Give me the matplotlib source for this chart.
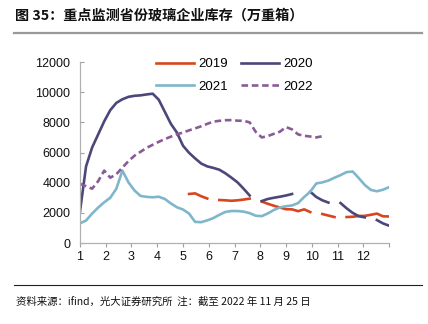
import numpy as np
import matplotlib
matplotlib.use("Agg")
import matplotlib.pyplot as plt

nan = np.nan

# weekly inventory, 52 weeks per year (gaps = no report that week)
inv_2019 = [nan] * 18 + [
    3250, 3290, 3100, 2950, nan, 2850, 2830, 2800, 2830, 2880, 2940, nan,
    2750, 2600, 2470, 2350, 2240, 2230, 2110, 2230, 2050, nan, 1920, 1820,
    1720, nan, 1720, 1740, 1790, 1800, 1870, 1950, 1770, 1760]
inv_2020 = [
    2100, 5080, 6330, 7200, 8070, 8810, 9290, 9530, 9690, 9760, 9790, 9850,
    9900, 9500, 8700, 7900, 7320, 6450, 5980, 5610, 5270, 5080, 4980, 4860,
    4620, 4330, 4020, 3600, 3150, nan, 2780, 2920, 3000, 3070, 3150, 3250,
    nan, nan, 3400, 3050, 2830, 2680, nan, 2650, 2300, 2000, 1780, 1700,
    nan, 1520, 1300, 1150]
inv_2021 = [
    1300, 1490, 1950, 2350, 2700, 3000, 3600, 4800, 4020, 3480, 3120, 3060,
    3030, 3070, 2920, 2620, 2370, 2220, 1950, 1400, 1380, 1500, 1650, 1870,
    2060, 2120, 2120, 2080, 1980, 1810, 1780, 1960, 2190, 2360, 2440, 2490,
    2650, 3050, 3400, 3950, 4020, 4140, 4330, 4500, 4700, 4740, 4310, 3850,
    3520, 3430, 3530, 3700]
inv_2022 = [
    3910, 3770, 3600, 4100, 4800, 4330, 4560, 5000, 5430, 5790, 6050, 6310,
    6510, 6710, 6890, 7050, 7210, 7320, 7470, 7600, 7740, 7900, 8050, 8100,
    8140, 8150, 8110, 8100, 8000, 7370, 7000, 7090, 7240, 7380, 7690, 7530,
    7200, 7110, 7060, 7000, 7080] + [nan] * 11

months = list(range(1, 13))
weeks = np.arange(52)
x = 1 + weeks * 12 / 51

fig = plt.figure(figsize=(4.28, 3.24), dpi=100)
ax = fig.add_axes([0.1869, 0.25, 0.722, 0.5586])

l19, = ax.plot(x, inv_2019, color="#d6461f", lw=1.9, label="2019")
l20, = ax.plot(x, inv_2020, color="#4b4778", lw=1.9, label="2020")
l21, = ax.plot(x, inv_2021, color="#80b6ca", lw=1.9, label="2021")
l22, = ax.plot(x, inv_2022, color="#8b5b98", lw=1.9, dashes=(2.5, 1.4), label="2022")

ax.set_xlim(1, 13)
ax.set_ylim(0, 12000)
ax.set_xticks(list(months) + [13])
ax.set_xticklabels([str(m) for m in months] + [""])
ax.set_yticks(np.arange(0, 12001, 2000))
ax.tick_params(axis="both", labelsize=9, colors="#a0a0a0", labelcolor="#111111",
               length=3, width=0.8)
ax.tick_params(axis="x", direction="out", pad=3)
ax.tick_params(axis="y", direction="in", pad=7)
for side in ["top", "right"]:
    ax.spines[side].set_visible(False)
for side in ["left", "bottom"]:
    ax.spines[side].set_color("#b0b0b0")
    ax.spines[side].set_linewidth(0.9)
for lab in ax.get_xticklabels() + ax.get_yticklabels():
    lab.set_family("Liberation Sans")

# legend rows: 2019 / 2020 on top, 2021 / 2022 below
fig.legend([l19, l21, l20, l22], ["2019", "2021", "2020", "2022"],
           ncol=2, loc="upper left", bbox_to_anchor=(0.336, 0.857),
           frameon=False, handlelength=2.9, handletextpad=0.3,
           columnspacing=1.0, labelspacing=0.75,
           prop={"family": "Liberation Sans", "size": 9.5})

# title bar
fig.text(0.036, 0.953, "图 35：重点监测省份玻璃企业库存（万重箱）",
         family=["Noto Sans CJK SC", "DejaVu Sans"], fontweight="bold",
         fontsize=10.2, va="center", ha="left", color="#111111")
fig.add_artist(plt.Line2D([0.033, 0.986], [0.898, 0.898], color="#999999",
                          lw=1.6, transform=fig.transFigure))

# source line
fig.add_artist(plt.Line2D([0.033, 0.986], [0.12, 0.12], color="#222222",
                          lw=0.8, transform=fig.transFigure))
fig.text(0.038, 0.068, "资料来源：ifind，光大证券研究所  注：截至 2022 年 11 月 25 日",
         family=["Noto Sans CJK SC", "DejaVu Sans"], fontsize=7.5,
         va="center", ha="left", color="#111111")

fig.savefig("out.png", dpi=100)
